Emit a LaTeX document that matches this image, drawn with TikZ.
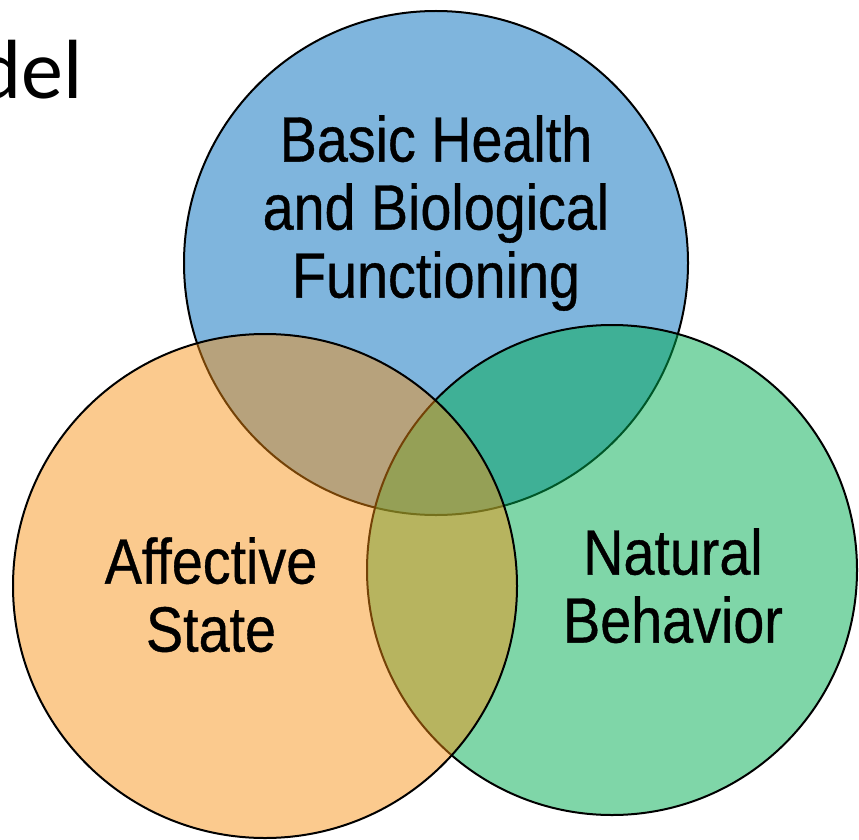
\documentclass[tikz,border=0pt]{standalone}
\usepackage{fontspec}
\setmainfont{Liberation Sans}
\newfontfamily\narrowfont[FakeStretch=0.87,FakeBold=0.6]{Liberation Sans}
\newfontfamily\titlefont{Carlito}
\definecolor{bluefill}{RGB}{127,181,221}
\definecolor{greenfill}{RGB}{0,173,81}
\definecolor{orangefill}{RGB}{247,142,15}
\tikzset{
  ring/.style={circle, draw=black, line width=2pt, inner sep=0pt},
  vlabel/.style={align=center, inner sep=0pt, anchor=north, text=black,
    font=\narrowfont\fontsize{64}{68}\selectfont},
}
\begin{document}
\begin{tikzpicture}[x=1pt,y=-1pt]
\path[use as bounding box] (0,0) rectangle (859,840);
\clip (0,0) rectangle (859,840);
\node[ring, fill=bluefill, minimum size=504pt] (health) at (436,263) {};
\node[ring, fill=greenfill, fill opacity=0.5, minimum size=490pt] (behavior) at (612,570) {};
\node[ring, fill=orangefill, fill opacity=0.47, minimum size=504pt] (affective) at (265,586) {};
\node[vlabel] (healthtext) at (436,115) {Basic Health\\and Biological\\Functioning};
\node[vlabel] (affecttext) at (211,537) {Affective\\State};
\node[vlabel] (behavtext) at (673,528) {Natural\\Behavior};
\node[anchor=base east, inner sep=0pt, font=\titlefont\fontsize{84}{84}\selectfont] (title) at (83,99) {del};
\end{tikzpicture}
\end{document}
